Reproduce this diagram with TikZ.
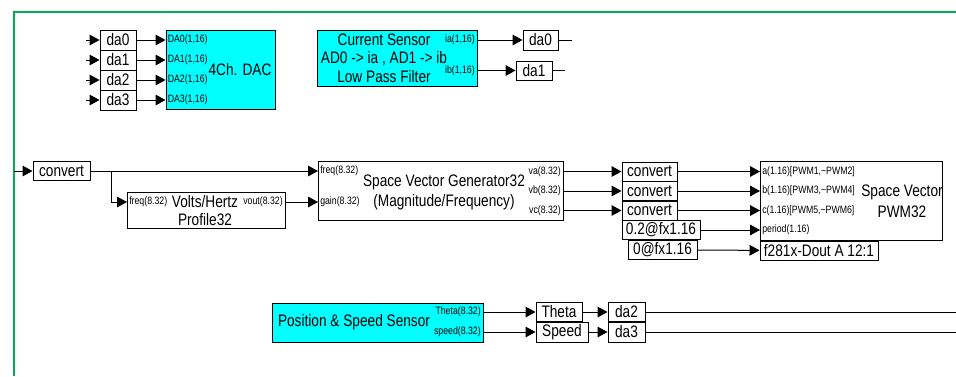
\documentclass[tikz,border=0pt]{standalone}
\usepackage{fontspec}
\setmainfont{Liberation Sans}[FakeStretch=0.82]
\usetikzlibrary{arrows.meta}
\definecolor{blkcyan}{RGB}{0,255,255}
\definecolor{framegreen}{RGB}{0,176,80}

\begin{document}
\begin{tikzpicture}[x=0.75pt, y=-0.75pt, font=\fontsize{12.5}{14}\selectfont,
  sig/.style={-{Triangle[length=7.5pt,width=8pt]}, line width=0.75pt},
  wire/.style={line width=0.75pt},
  sz/.style 2 args={minimum width=#1*0.75pt, minimum height=#2*0.75pt},
  box/.style={draw, line width=0.75pt, inner sep=0pt, fill=white},
  cbox/.style={box, fill=blkcyan},
  port/.style={inner sep=1.5pt, font=\fontsize{8}{9}\selectfont}]
  \useasboundingbox (0,0) rectangle (956,376);
  \draw[framegreen, line width=1.5pt] (14,376) -- (14,12) -- (956,12);

  % 4 channel DAC
  \node[box, sz={36}{20}] (din0) at (118,40) {da0};
  \node[box, sz={36}{20}] (din1) at (118,60) {da1};
  \node[box, sz={36}{20}] (din2) at (118,80) {da2};
  \node[box, sz={36}{20}] (din3) at (118,100) {da3};
  \node[cbox, sz={109}{79}] (dac) at (220.5,69.5) {};
  \node (dacname) at (240,70) {4Ch. DAC};
  \node[port, anchor=west] (dac0) at (dac.west |- din0) {DA0(1,16)};
  \node[port, anchor=west] (dac1) at (dac.west |- din1) {DA1(1,16)};
  \node[port, anchor=west] (dac2) at (dac.west |- din2) {DA2(1,16)};
  \node[port, anchor=west] (dac3) at (dac.west |- din3) {DA3(1,16)};
  \coordinate (cin0) at (86,40);
  \coordinate (cin1) at (86,60);
  \coordinate (cin2) at (86,80);
  \coordinate (cin3) at (86,100);

  \draw[sig] (cin0) -- (din0);
  \draw[sig] (cin1) -- (din1);
  \draw[sig] (cin2) -- (din2);
  \draw[sig] (cin3) -- (din3);
  \draw[sig] (din0) -- (dac0.west);
  \draw[sig] (din1) -- (dac1.west);
  \draw[sig] (din2) -- (dac2.west);
  \draw[sig] (din3) -- (dac3.west);

  % current sensor
  \node[cbox, sz={160}{56}] (cur) at (397,58) {};
  \node[align=center] (curname) at (384,58) {Current Sensor\\AD0 -> ia , AD1 -> ib\\Low Pass Filter};
  \node[port, anchor=east] (ia) at (477,40) {ia(1,16)};
  \node[port, anchor=east] (ib) at (477,70.5) {ib(1,16)};
  \node[box, sz={35}{20}] (ida0) at (540.5,40) {da0};
  \node[box, sz={36}{19}] (ida1) at (534,70.5) {da1};
  \coordinate (ida0out) at (572,40);
  \coordinate (ida1out) at (565,70.5);

  \draw[sig] (ia.east) -- (ida0);
  \draw[sig] (ib.east) -- (ida1);
  \draw[wire] (ida0) -- (ida0out);
  \draw[wire] (ida1) -- (ida1out);

  % volts/hertz and space vector generator
  \coordinate (vfin) at (14,171);
  \coordinate (br) at (111,171);
  \node[box, sz={57}{19}] (conv) at (61.5,171) {convert};
  \node[box, sz={158}{36}] (vh) at (206,210) {};
  \node[port, anchor=west] (vhf) at (127,202) {freq(8.32)};
  \node (vhname) at (205,202) {Volts/Hertz};
  \node (vhname2) at (205,220) {Profile32};
  \node[port, anchor=east] (vout) at (285,202) {vout(8.32)};
  \node[box, sz={245}{59}] (svg) at (440.5,190.5) {};
  \node[align=center, font=\fontsize{12.5}{15}\selectfont] (svgname) at (444,192) {Space Vector Generator32\\(Magnitude/Frequency)};
  \node[port, anchor=west] (freq) at (318,171) {freq(8.32)};
  \node[port, anchor=west] (gain) at (318,202) {gain(8.32)};
  \node[port, anchor=east] (va) at (563,171.5) {va(8.32)};
  \node[port, anchor=east] (vb) at (563,191) {vb(8.32)};
  \node[port, anchor=east] (vc) at (563,210.5) {vc(8.32)};

  \draw[sig] (vfin) -- (conv);
  \draw[sig] (conv) -- (freq.west);
  \draw[sig] (br) |- (vhf.west);
  \draw[sig] (vout.east) -- (gain.west);

  % space vector PWM
  \node[box, sz={55}{19}] (conva) at (649.5,171.5) {convert};
  \node[box, sz={55}{19}] (convb) at (649.5,191) {convert};
  \node[box, sz={55}{19}] (convc) at (649.5,210.5) {convert};
  \node[box, sz={78}{19}] (per) at (661,230) {0.2@fx1.16};
  \node[box, sz={69}{19}] (dout) at (662.5,250) {0@fx1.16};
  \node[box, sz={182}{79}] (pwm) at (851,200.5) {};
  \node[align=center, font=\fontsize{12.5}{15.5}\selectfont] (pwmname) at (902,201.5) {Space Vector\\PWM32};
  \node[port, anchor=west] (pa) at (760,171.5) {a(1.16)[PWM1,\textasciitilde PWM2]};
  \node[port, anchor=west] (pb) at (760,191) {b(1.16)[PWM3,\textasciitilde PWM4]};
  \node[port, anchor=west] (pc) at (760,210.5) {c(1.16)[PWM5,\textasciitilde PWM6]};
  \node[port, anchor=west] (pper) at (760,230) {period(1.16)};
  \node[box, sz={118}{19}] (f281) at (819,250.5) {f281x-Dout A 12:1};

  \draw[sig] (va.east) -- (conva);
  \draw[sig] (vb.east) -- (convb);
  \draw[sig] (vc.east) -- (convc);
  \draw[sig] (conva) -- (pa.west);
  \draw[sig] (convb) -- (pb.west);
  \draw[sig] (convc) -- (pc.west);
  \draw[sig] (per) -- (pper.west);
  \draw[sig] (dout) -- (f281);

  % position and speed sensor
  \node[cbox, sz={211}{39}] (pos) at (377.5,322.5) {};
  \node (posname) at (354,322) {Position \& Speed Sensor};
  \node[port, anchor=east] (pth) at (483,312) {Theta(8.32)};
  \node[port, anchor=east] (psp) at (483,332) {speed(8.32)};
  \node[box, sz={46}{19}] (theta) at (559,312) {Theta};
  \node[box, sz={52}{20}] (speed) at (562,332) {Speed};
  \node[box, sz={37}{19}] (oda2) at (626.5,312) {da2};
  \node[box, sz={37}{20}] (oda3) at (626.5,332) {da3};
  \coordinate (oda2out) at (956,312);
  \coordinate (oda3out) at (956,332);

  \draw[sig] (pth.east) -- (theta);
  \draw[sig] (psp.east) -- (speed);
  \draw[sig] (theta) -- (oda2);
  \draw[sig] (speed) -- (oda3);
  \draw[wire] (oda2) -- (oda2out);
  \draw[wire] (oda3) -- (oda3out);
\end{tikzpicture}
\end{document}
